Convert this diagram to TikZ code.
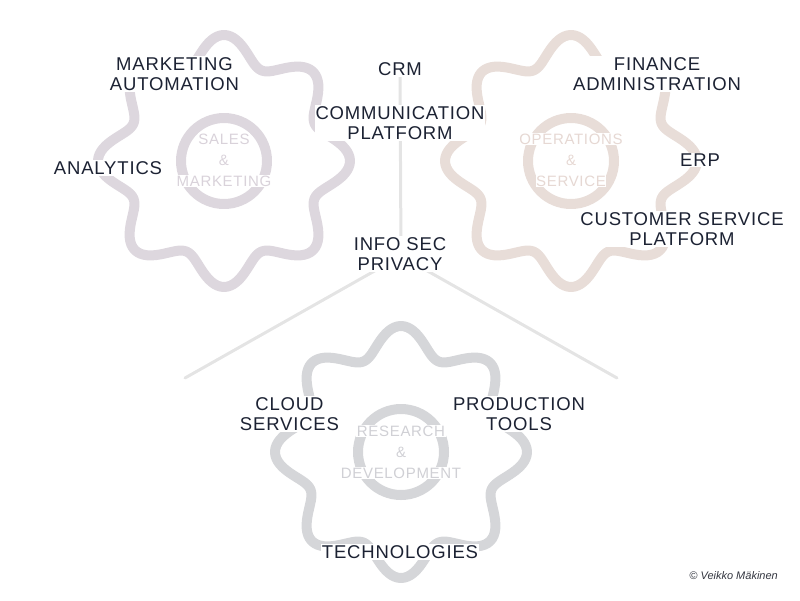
\documentclass[tikz,border=0pt]{standalone}
\usepackage{fontspec}
\setmainfont{Liberation Sans}[LetterSpace=4.5]
\newfontfamily\creditfont{Liberation Sans}
\usetikzlibrary{backgrounds}
\definecolor{textdark}{HTML}{1C2233}
\definecolor{gearA}{HTML}{DDD7DE}
\definecolor{gearB}{HTML}{E8DDD8}
\definecolor{gearC}{HTML}{D5D6D9}
\definecolor{hubA}{HTML}{D9D2DA}
\definecolor{hubB}{HTML}{E6D8D3}
\definecolor{hubC}{HTML}{D0D0D5}
\definecolor{linegray}{HTML}{E4E4E4}
\definecolor{creditgray}{HTML}{333640}
\newcommand\halotext[1]{{\setlength\fboxsep{0.6pt}\colorbox{white}{#1}}}
\tikzset{
  lbl/.style={fill=white, inner sep=1pt, align=center, text=textdark,
    font=\fontsize{18.5}{20}\selectfont},
  hub/.style={inner sep=0pt, align=center, font=\fontsize{15}{21}\selectfont},
  gearline/.style={line width=10pt, line join=round},
  conn/.style={draw=linegray, line width=3pt, line cap=round}
}
\begin{document}
\begin{tikzpicture}[x=1pt,y=-1pt]
\useasboundingbox (0,0) rectangle (800,600);
% labels
\node[lbl] (crm) at (400,69) {CRM};
\node[lbl] (comm) at (400,123) {COMMUNICATION\\PLATFORM};
\node[lbl] (mkt) at (174.5,74) {MARKETING\\AUTOMATION};
\node[lbl] (ana) at (108,168) {ANALYTICS};
\node[lbl] (fin) at (657,74) {FINANCE\\ADMINISTRATION};
\node[lbl] (erp) at (700,160) {ERP};
\node[lbl] (csp) at (682,229) {CUSTOMER SERVICE\\PLATFORM};
\node[lbl] (infosec) at (400,254) {INFO SEC\\PRIVACY};
\node[lbl] (cloud) at (289.5,414) {CLOUD\\SERVICES};
\node[lbl] (prod) at (519,414) {PRODUCTION\\TOOLS};
\node[lbl] (tech) at (400,552) {TECHNOLOGIES};
\node[hub, text=hubA] (sales) at (224,160) {\halotext{SALES}\\\&\\\halotext{MARKETING}};
\node[hub, text=hubB] (ops) at (571,160) {\halotext{OPERATIONS}\\\&\\\halotext{SERVICE}};
\node[hub, text=hubC] (rnd) at (401,452) {\halotext{RESEARCH}\\\&\\\halotext{DEVELOPMENT}};
\node[anchor=east, inner sep=0pt, text=creditgray, font=\creditfont\fontsize{11}{13}\selectfont\itshape] (credit) at (778,576) {© Veikko Mäkinen};
\coordinate (hubY) at (401,256);
\coordinate (leftEnd) at (185,378);
\coordinate (rightEnd) at (617,378);
\begin{scope}[on background layer]
  \draw[conn] (crm.center) -- (hubY);
  \draw[conn] (hubY) -- (leftEnd);
  \draw[conn] (hubY) -- (rightEnd);
  \draw[gearline, draw=gearA] plot[domain=0:360, samples=241, smooth]
    ({224+(112+14*cos(8*\x))*sin(\x)}, {161-(112+14*cos(8*\x))*cos(\x)}) -- cycle;
  \draw[gearline, draw=gearB] plot[domain=0:360, samples=241, smooth]
    ({571+(112+14*cos(8*\x))*sin(\x)}, {161-(112+14*cos(8*\x))*cos(\x)}) -- cycle;
  \draw[gearline, draw=gearC] plot[domain=0:360, samples=241, smooth]
    ({401+(112+14*cos(8*\x))*sin(\x)}, {452-(112+14*cos(8*\x))*cos(\x)}) -- cycle;
  \draw[gearline, draw=gearA] (224,161) circle[radius=43];
  \draw[gearline, draw=gearB] (571,161) circle[radius=43];
  \draw[gearline, draw=gearC] (401,452) circle[radius=43];
\end{scope}
\end{tikzpicture}
\end{document}
